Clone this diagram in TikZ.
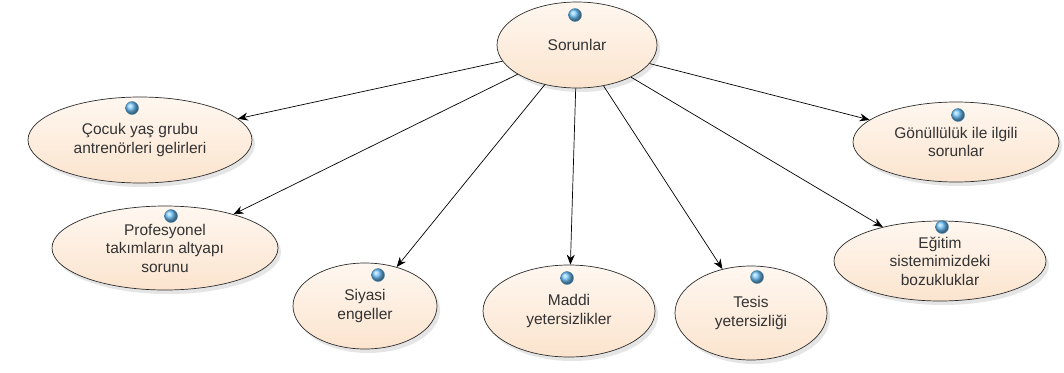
\documentclass[tikz,border=0pt]{standalone}
\usepackage{fontspec}
\setmainfont{Liberation Sans}
\usetikzlibrary{arrows.meta,shapes.geometric,shadows}
\definecolor{peachtop}{RGB}{255,247,240}
\definecolor{peachbot}{RGB}{251,228,206}
\definecolor{ballblue}{RGB}{110,195,250}
\definecolor{edgegray}{RGB}{45,45,45}
\tikzset{
  uc/.style={ellipse, draw=edgegray, line width=0.7pt, top color=peachtop, bottom color=peachbot,
    drop shadow={opacity=0.2, shadow xshift=3pt, shadow yshift=-4pt},
    inner sep=0pt, align=center, font=\fontsize{15.5}{18.5}\selectfont, text=black!80},
  ballnode/.style={circle, minimum size=13pt, inner sep=0pt, shading=ball, ball color=ballblue, draw=ballblue!70!black, line width=0.4pt},
  conn/.style={-{Stealth[length=10pt,width=8pt]}, line width=0.7pt, black}
}
\begin{document}
\begin{tikzpicture}[x=1pt,y=-1pt]
\useasboundingbox (0,0) rectangle (1064,372);
\fill[white] (0,0) rectangle (1064,372);
\node[uc, minimum width=160pt, minimum height=86pt] (sor) at (577,45) {Sorunlar};
\node[uc, minimum width=224pt, minimum height=86pt] (coc) at (140,140) {Çocuk yaş grubu\\antrenörleri gelirleri};
\node[uc, minimum width=226pt, minimum height=84pt] (pro) at (165,248) {Profesyonel\\takımların altyapı\\sorunu};
\node[uc, minimum width=144pt, minimum height=86pt] (siy) at (365,306) {Siyasi\\engeller};
\node[uc, minimum width=172pt, minimum height=92pt] (mad) at (569,311) {Maddi\\yetersizlikler};
\node[uc, minimum width=152pt, minimum height=94pt] (tes) at (751,313) {Tesis\\yetersizliği};
\node[uc, minimum width=206pt, minimum height=80pt] (gon) at (956,142) {Gönüllülük ile ilgili\\sorunlar};
\node[uc, minimum width=212pt, minimum height=80pt] (egi) at (940,261) {Eğitim\\sistemimizdeki\\bozukluklar};

\node[ballnode] (b0) at (575,15) {};
\node[ballnode] (b1) at (132,108) {};
\node[ballnode] (b2) at (171,216) {};
\node[ballnode] (b3) at (378,275) {};
\node[ballnode] (b4) at (567,278) {};
\node[ballnode] (b5) at (757,277) {};
\node[ballnode] (b6) at (958,115) {};
\node[ballnode] (b7) at (942,227) {};

\draw[conn] (sor) -- (coc);
\draw[conn] (sor) -- (pro);
\draw[conn] (sor) -- (siy);
\draw[conn] (sor) -- (mad);
\draw[conn] (sor) -- (tes);
\draw[conn] (sor) -- (gon);
\draw[conn] (sor) -- (egi);
\end{tikzpicture}
\end{document}
